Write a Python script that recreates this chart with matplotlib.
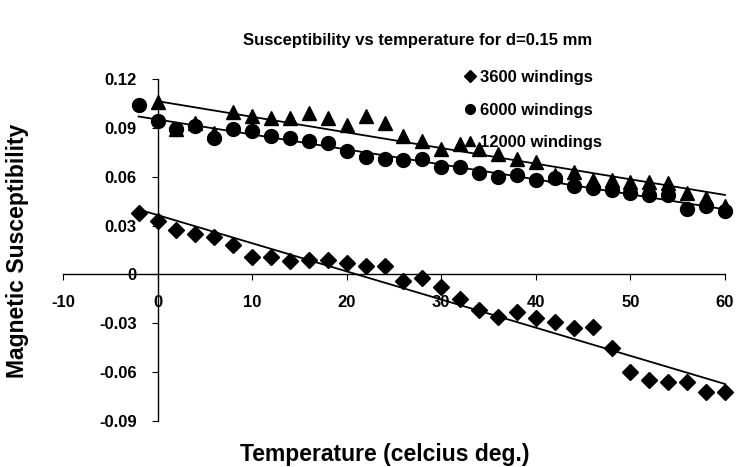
import numpy as np
import matplotlib
matplotlib.use("Agg")
import matplotlib.pyplot as plt

plt.rcParams['font.family'] = ['Liberation Sans', 'DejaVu Sans']
plt.rcParams['font.weight'] = 'bold'
plt.rcParams['axes.unicode_minus'] = False

# temperature (celcius) and susceptibility
t_3600 = [-2, 0, 2, 4, 6, 8, 10, 12, 14, 16, 18, 20, 22, 24, 26, 28, 30,
          32, 34, 36, 38, 40, 42, 44, 46, 48, 50, 52, 54, 56, 58, 60]
chi_3600 = [0.038, 0.033, 0.027, 0.025, 0.023, 0.018, 0.011, 0.011, 0.008,
            0.009, 0.009, 0.007, 0.005, 0.005, -0.004, -0.002, -0.008,
            -0.015, -0.022, -0.026, -0.023, -0.027, -0.029, -0.033, -0.032,
            -0.045, -0.060, -0.065, -0.066, -0.066, -0.072, -0.072]

t_6000 = [-2, 0, 2, 4, 6, 8, 10, 12, 14, 16, 18, 20, 22, 24, 26, 28, 30,
          32, 34, 36, 38, 40, 42, 44, 46, 48, 50, 52, 54, 56, 58, 60]
chi_6000 = [0.104, 0.094, 0.089, 0.091, 0.084, 0.089, 0.088, 0.085, 0.084,
            0.082, 0.081, 0.076, 0.072, 0.071, 0.070, 0.071, 0.066, 0.066,
            0.062, 0.060, 0.061, 0.058, 0.059, 0.054, 0.053, 0.052, 0.050,
            0.049, 0.049, 0.040, 0.042, 0.039]

t_12000 = [0, 2, 4, 6, 8, 10, 12, 14, 16, 18, 20, 22, 24, 26, 28, 30,
           32, 34, 36, 38, 40, 42, 44, 46, 48, 50, 52, 54, 56, 58, 60]
chi_12000 = [0.106, 0.0895, 0.093, 0.087, 0.100, 0.097, 0.096, 0.096, 0.099,
             0.096, 0.092, 0.097, 0.093, 0.085, 0.082, 0.077, 0.080, 0.077,
             0.074, 0.071, 0.069, 0.061, 0.063, 0.058, 0.058, 0.057, 0.057,
             0.056, 0.050, 0.047, 0.042]

x_ticks = [-10, 0, 10, 20, 30, 40, 50, 60]
x_tick_labels = ['-10', '0', '10', '20', '30', '40', '50', '60']
y_ticks = [-0.09, -0.06, -0.03, 0, 0.03, 0.06, 0.09, 0.12]
y_tick_labels = ['-0.09', '-0.06', '-0.03', '0', '0.03', '0.06', '0.09', '0.12']

fig = plt.figure(figsize=(7.36, 4.67), dpi=100)
ax = fig.add_axes([63 / 736, 1 - 421 / 467, (725 - 63) / 736, (421 - 79) / 467])

series = [
    (t_3600, chi_3600, 'D', 8.5, '3600 windings'),
    (t_6000, chi_6000, 'o', 10, '6000 windings'),
    (t_12000, chi_12000, '^', 10, '12000 windings'),
]
for t, chi, mk, ms, lab in series:
    t = np.array(t)
    chi = np.array(chi)
    ax.plot(t, chi, linestyle='none', marker=mk, markersize=ms,
            color='black', label=lab, clip_on=False)
    # linear trendline like the spreadsheet one
    k, b = np.polyfit(t, chi, 1)
    ax.plot([t.min(), t.max()], [k * t.min() + b, k * t.max() + b],
            color='black', linewidth=1.3, clip_on=False)

ax.set_xlim(-10, 60)
ax.set_ylim(-0.09, 0.12)
ax.spines['left'].set_position(('data', 0))
ax.spines['bottom'].set_position(('data', 0))
ax.spines['top'].set_visible(False)
ax.spines['right'].set_visible(False)
ax.spines['left'].set_linewidth(1.0)
ax.spines['bottom'].set_linewidth(1.0)

ax.set_xticks(x_ticks)
ax.set_xticklabels(x_tick_labels)
ax.set_yticks(y_ticks)
ax.set_yticklabels(y_tick_labels)
ax.tick_params(axis='x', direction='out', length=4, pad=11, labelsize=12)
ax.tick_params(axis='y', direction='out', length=4, pad=11, labelsize=12)

leg = ax.legend(loc='upper left', bbox_to_anchor=(457 / 736, 1 - 62 / 467),
                bbox_transform=fig.transFigure, frameon=False, fontsize=12,
                handlelength=0.6, handletextpad=0.3, labelspacing=1.05,
                markerscale=0.7, numpoints=1, borderpad=0)

fig.text(418 / 736, 1 - 40 / 467, 'Susceptibility vs temperature for d=0.15 mm',
         ha='center', va='center', fontsize=12, fontweight='bold')
fig.text(385 / 736, 1 - 455 / 467, 'Temperature (celcius deg.)',
         ha='center', va='center', fontsize=16.5, fontweight='bold')
fig.text(18 / 736, 1 - 251 / 467, 'Magnetic Susceptibility', rotation=90,
         ha='center', va='center', fontsize=16.5, fontweight='bold')

fig.savefig('out.png', dpi=100)
